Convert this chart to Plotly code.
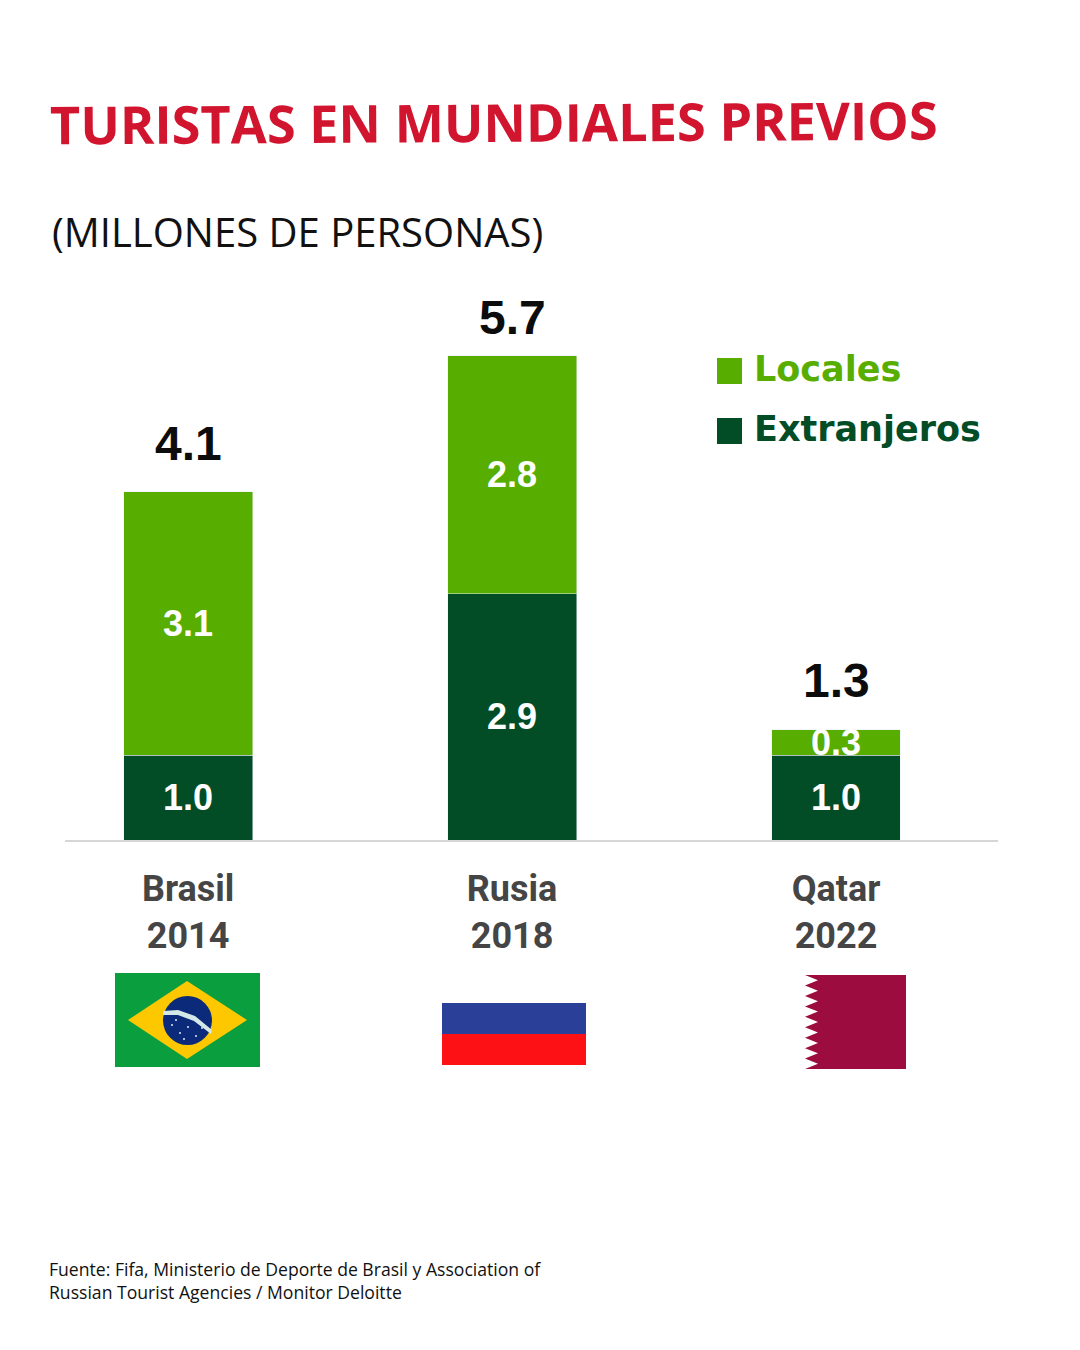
import plotly.graph_objects as go

categories = ["Brasil<br>2014", "Rusia<br>2018", "Qatar<br>2022"]
extranjeros = [1.0, 2.9, 1.0]
locales = [3.1, 2.8, 0.3]
totales = [4.1, 5.7, 1.3]
total_lift = [20, 10, 21]

DARK = "#024d26"
LIGHT = "#57ae00"
RED = "#d2152f"
BODY_FONT = "Open Sans"

# plot area in page pixels, used to place everything that is not data
LEFT, RIGHT, TOP, BASE = 65, 998, 280, 840


def px(x):
    return (x - LEFT) / (RIGHT - LEFT)


def py(y):
    return (BASE - y) / (BASE - TOP)


def rect(x0, y0, x1, y1, color):
    return dict(type="rect", xref="paper", yref="paper", x0=px(x0), x1=px(x1),
                y0=py(y0), y1=py(y1), fillcolor=color, line_width=0, layer="above")


def poly(points, color):
    path = "M " + " L ".join(f"{px(x):.5f},{py(y):.5f}" for x, y in points) + " Z"
    return dict(type="path", xref="paper", yref="paper", path=path,
                fillcolor=color, line_width=0, layer="above")


def oval(x0, y0, x1, y1, color):
    return dict(type="circle", xref="paper", yref="paper", x0=px(x0), x1=px(x1),
                y0=py(y0), y1=py(y1), fillcolor=color, line_width=0, layer="above")


def text(x, y, label, size, color, family=BODY_FONT, weight="normal", angle=0):
    return dict(xref="paper", yref="paper", x=px(x), y=py(y), text=label, showarrow=False,
                xanchor="left", yanchor="middle", align="left", textangle=angle,
                font=dict(family=family, size=size, color=color, weight=weight))


fig = go.Figure()
for name, values, color in [("Extranjeros", extranjeros, DARK), ("Locales", locales, LIGHT)]:
    fig.add_bar(
        x=categories, y=values, name=name, marker_color=color, width=0.398,
        text=[f"{v:.1f}" for v in values], textposition="inside", textangle=0,
        insidetextanchor="middle", constraintext="none",
        textfont=dict(family="Liberation Sans", size=36, color="white", weight="bold"),
    )

shapes = [
    # legend squares
    rect(717, 358, 742, 384, LIGHT),
    rect(717, 418, 742, 444, DARK),
    # Brasil
    rect(115, 973, 260, 1067, "#0a9e3f"),
    poly([(128, 1020), (187, 981), (247, 1020), (187, 1059)], "#fdc800"),
    oval(163, 996, 212, 1045, "#0b2a7a"),
    poly([(163, 1011), (178, 1010), (195, 1016), (212, 1030), (211, 1034), (194, 1021), (178, 1015), (163, 1015)], "#d5e8e8"),
    # Rusia
    rect(442, 1003, 586, 1034, "#2a3f98"),
    rect(442, 1034, 586, 1065, "#fe1114"),
]
for sx, sy in [(172, 1025), (180, 1033), (188, 1027), (196, 1036), (202, 1028), (184, 1039), (176, 1020)]:
    shapes.append(oval(sx - 1, sy - 1, sx + 1, sy + 1, "#dfe8f5"))

# Qatar, serrated hoist
qatar = [(906, 975), (906, 1069), (805, 1069)]
for i in range(9):
    bottom = 1069 - i * 94 / 9
    qatar += [(818, bottom - 5.2), (805, bottom - 10.4)]
shapes.append(poly(qatar, "#9d0c3e"))

annotations = [
    text(48, 122, "TURISTAS EN MUNDIALES PREVIOS", 52.3, RED, weight="bold", angle=-0.3),
    text(50, 231, "(MILLONES DE PERSONAS)", 40, "#111111"),
    text(752, 369, "Locales", 35, LIGHT, family="DejaVu Sans", weight="bold"),
    text(752, 429, "Extranjeros", 35, DARK, family="DejaVu Sans", weight="bold"),
    text(47, 1280, "Fuente: Fifa, Ministerio de Deporte de Brasil y Association of<br>"
                   "Russian Tourist Agencies / Monitor Deloitte", 17.6, "#111111"),
]
for cat, total, lift in zip(categories, totales, total_lift):
    annotations.append(dict(
        x=cat, y=total, text=f"{total:.1f}", showarrow=False, yanchor="bottom", yshift=lift,
        font=dict(family="Liberation Sans", size=48, color="#0c0c0c", weight="bold"),
    ))

fig.update_layout(
    width=1080, height=1350, barmode="stack", showlegend=False,
    margin=dict(l=LEFT, r=1080 - RIGHT, t=TOP, b=1350 - BASE, pad=0),
    paper_bgcolor="white", plot_bgcolor="white",
    shapes=shapes, annotations=annotations,
)
fig.update_xaxes(
    range=[-0.38, 2.5], showgrid=False, zeroline=False, showline=True, linecolor="#d6d6d6",
    linewidth=2, ticks="", ticklabelstandoff=16,
    tickfont=dict(family="Roboto", size=36, color="#454545", weight="bold"),
)
fig.update_yaxes(range=[0, 560 / 85], visible=False)

fig.write_html("out.html", config={"displayModeBar": False},
               post_script="document.body.style.margin='0';")
